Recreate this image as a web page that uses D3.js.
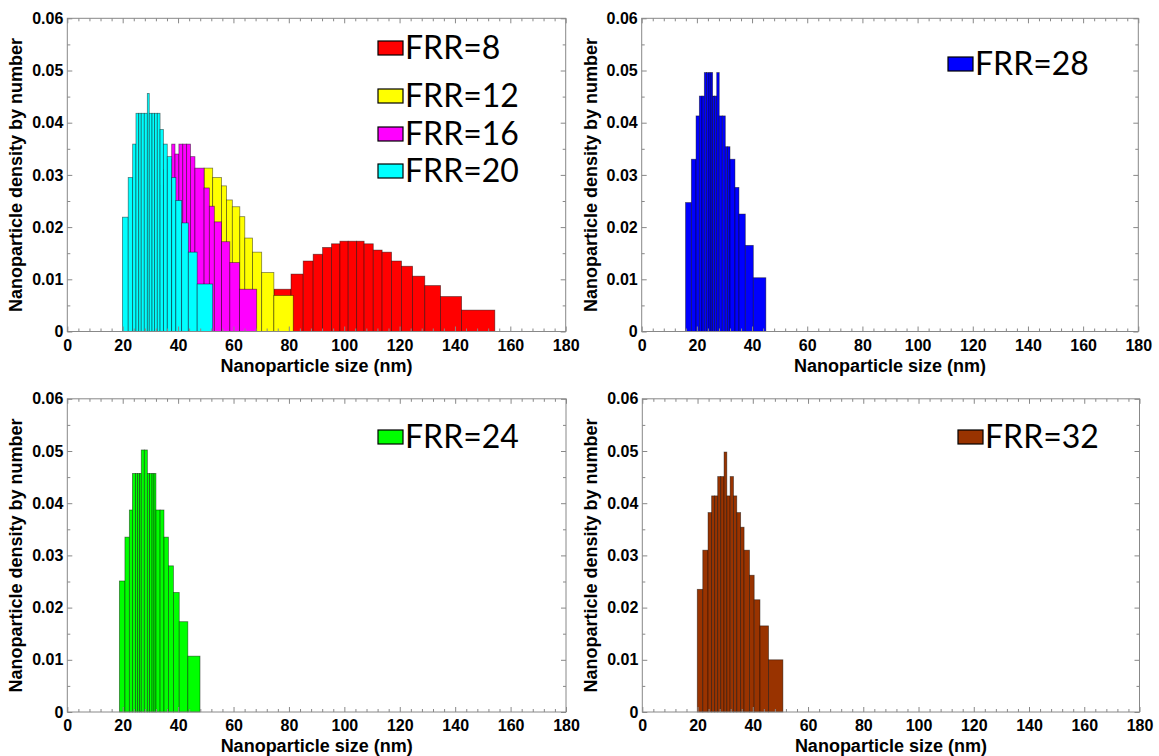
<!DOCTYPE html>
<html lang="en">
<head>
<meta charset="utf-8">
<title>Nanoparticle size distributions</title>
<style type="text/css">
  body { margin: 0; background: #fff; }
  .tick text, .lab {
    font-family: "Liberation Sans Narrow", "Liberation Sans", Arial, sans-serif;
    font-weight: bold;
    fill: #000;
  }
  .leg { font-family: Lato, "Open Sans", sans-serif; font-size: 32px; fill: #000; }
</style>
<script type="text/javascript" src="https://d3js.org/d3.v7.min.js"></script>
</head>
<body>
<script type="text/javascript">

var w = 1159;
var h = 756;

// bin edges (nm) and number density per bin
var edges8  = [74.6, 80.8, 85.2, 88.8, 92.2, 95.4, 98.45, 101.45, 104.5, 107.2, 110.5, 113.7, 117.1, 120.7, 124.7, 129.1, 134.8, 142.4, 154.4];
var dens8   = [0.0081, 0.0110, 0.0135, 0.0148, 0.0161, 0.0168, 0.0173, 0.0173, 0.0173, 0.0168, 0.0156, 0.0152, 0.0135, 0.0125, 0.0106, 0.0088, 0.0067, 0.0041];

var edges12 = [46.1, 49.4, 52.5, 55.7, 57.5, 59.6, 62.3, 64.1, 66.9, 70.2, 74.6, 81.6];
var dens12  = [0.0300, 0.0313, 0.0295, 0.0279, 0.0252, 0.0239, 0.0220, 0.0179, 0.0152, 0.0113, 0.0069];

var edges16 = [33.5, 34.7, 36.1, 37.7, 38.9, 40.3, 41.7, 43.1, 44.5, 46.1, 49.4, 51.3, 53.1, 55.7, 58.7, 62.2, 68.4];
var dens16  = [0.0280, 0.0310, 0.0330, 0.0359, 0.0340, 0.0359, 0.0359, 0.0359, 0.0335, 0.0313, 0.0275, 0.0240, 0.0210, 0.0172, 0.0132, 0.0081];

var edges20 = [19.9, 22.0, 23.6, 24.8, 25.8, 26.7, 27.8, 28.9, 29.6, 30.6, 31.5, 32.5, 33.5, 34.7, 36.1, 37.7, 39.2, 41.3, 43.7, 46.9, 52.5];
var dens20  = [0.0219, 0.0295, 0.0359, 0.0418, 0.0418, 0.0418, 0.0418, 0.0456, 0.0418, 0.0418, 0.0418, 0.0418, 0.0387, 0.0359, 0.0335, 0.0295, 0.0251, 0.0208, 0.0152, 0.0091];

var edges24 = [18.8, 20.8, 22.4, 23.5, 24.6, 25.4, 26.1, 26.7, 27.8, 28.9, 29.7, 30.6, 31.3, 32.0, 33.5, 34.9, 36.5, 38.3, 40.4, 43.5, 47.9];
var dens24  = [0.0251, 0.0335, 0.0387, 0.0457, 0.0457, 0.0457, 0.0457, 0.0502, 0.0502, 0.0457, 0.0457, 0.0457, 0.0457, 0.0387, 0.0387, 0.0335, 0.0280, 0.0229, 0.0173, 0.0107];

var edges28 = [15.9, 18.0, 19.7, 20.9, 21.85, 22.7, 23.5, 24.4, 25.1, 25.7, 26.4, 27.2, 28.1, 29.2, 30.3, 31.15, 32.0, 33.8, 35.25, 37.55, 40.45, 45.0];
var dens28  = [0.0247, 0.0330, 0.0413, 0.0451, 0.0451, 0.0496, 0.0496, 0.0496, 0.0496, 0.0451, 0.0451, 0.0496, 0.0413, 0.0413, 0.0354, 0.0354, 0.0330, 0.0276, 0.0225, 0.0165, 0.0103];

var edges32 = [19.9, 21.9, 23.8, 25.1, 26.2, 27.3, 28.4, 29.6, 30.6, 31.8, 33.0, 34.2, 35.6, 36.85, 38.8, 40.5, 42.6, 45.7, 50.9];
var dens32  = [0.0235, 0.0310, 0.0382, 0.0414, 0.0414, 0.0451, 0.0451, 0.0498, 0.0414, 0.0451, 0.0414, 0.0382, 0.0354, 0.0310, 0.0262, 0.0215, 0.0165, 0.0100];

var xTicks = d3.range(0, 181, 20);
var yTicks = [0, 0.01, 0.02, 0.03, 0.04, 0.05, 0.06];
var xTitle = 'Nanoparticle size (nm)';
var yTitle = 'Nanoparticle density by number';

var s8  = {name: 'FRR=8',  color: '#ff0000', edges: edges8,  dens: dens8};
var s12 = {name: 'FRR=12', color: '#ffff00', edges: edges12, dens: dens12};
var s16 = {name: 'FRR=16', color: '#ff00ff', edges: edges16, dens: dens16};
var s20 = {name: 'FRR=20', color: '#00ffff', edges: edges20, dens: dens20};
var s24 = {name: 'FRR=24', color: '#00ff00', edges: edges24, dens: dens24};
var s28 = {name: 'FRR=28', color: '#0000ff', edges: edges28, dens: dens28};
var s32 = {name: 'FRR=32', color: '#993300', edges: edges32, dens: dens32};

// panel frames (pixel boxes) and legend placement
var panels = [
  {x0: 67.3, x1: 565.7, yt: 18.3, yb: 331.5, series: [s8, s12, s16, s20],
   leg: [{x: 378, y: 48}, {x: 378, y: 96}, {x: 378, y: 134}, {x: 378, y: 171}]},
  {x0: 641.7, x1: 1138.3, yt: 18.3, yb: 331.5, series: [s28],
   leg: [{x: 948, y: 64}]},
  {x0: 67.3, x1: 566, yt: 398.8, yb: 712, series: [s24],
   leg: [{x: 378, y: 437}]},
  {x0: 642.3, x1: 1139.5, yt: 398.8, yb: 712, series: [s32],
   leg: [{x: 958, y: 437}]}
];

var svg = d3.select('body')
  .append('svg')
  .attr('width', w)
  .attr('height', h);

var yFmt = function(d){ return d === 0 ? '0' : d3.format('.2f')(d); };

panels.forEach(function(p){
  var x = d3.scaleLinear().domain([0, 180]).range([p.x0, p.x1]);
  var y = d3.scaleLinear().domain([0, 0.06]).range([p.yb, p.yt]);
  var g = svg.append('g');

  p.series.forEach(function(s){
    var bins = s.dens.map(function(v, i){ return {a: s.edges[i], b: s.edges[i+1], v: v}; });
    g.append('g').selectAll('rect')
      .data(bins)
      .enter()
      .append('rect')
      .attr('x', function(d){ return x(d.a); })
      .attr('y', function(d){ return y(d.v); })
      .attr('width', function(d){ return x(d.b) - x(d.a); })
      .attr('height', function(d){ return y(0) - y(d.v); })
      .attr('fill', s.color)
      .attr('stroke', '#000')
      .attr('stroke-opacity', 0.5)
      .attr('stroke-width', 0.8);
  });

  var minorX = d3.range(0, 181, 4).filter(function(d){ return d % 20 !== 0; });
  var minorY = [0.005, 0.015, 0.025, 0.035, 0.045, 0.055];

  // bottom
  g.append('g').attr('transform', 'translate(0,' + p.yb + ')')
    .call(d3.axisBottom(x).tickValues(xTicks).tickSizeInner(-5).tickSizeOuter(0).tickPadding(8));
  g.append('g').attr('transform', 'translate(0,' + p.yb + ')')
    .call(d3.axisBottom(x).tickValues(minorX).tickSizeInner(-3).tickSizeOuter(0).tickFormat(''));
  // top
  g.append('g').attr('transform', 'translate(0,' + p.yt + ')')
    .call(d3.axisTop(x).tickValues(xTicks).tickSizeInner(-5).tickSizeOuter(0).tickFormat(''));
  g.append('g').attr('transform', 'translate(0,' + p.yt + ')')
    .call(d3.axisTop(x).tickValues(minorX).tickSizeInner(-3).tickSizeOuter(0).tickFormat(''));
  // left
  g.append('g').attr('transform', 'translate(' + p.x0 + ',0)')
    .call(d3.axisLeft(y).tickValues(yTicks).tickSizeInner(-5).tickSizeOuter(0).tickPadding(4).tickFormat(yFmt));
  g.append('g').attr('transform', 'translate(' + p.x0 + ',0)')
    .call(d3.axisLeft(y).tickValues(minorY).tickSizeInner(-3).tickSizeOuter(0).tickFormat(''));
  // right
  g.append('g').attr('transform', 'translate(' + p.x1 + ',0)')
    .call(d3.axisRight(y).tickValues(yTicks).tickSizeInner(-5).tickSizeOuter(0).tickFormat(''));
  g.append('g').attr('transform', 'translate(' + p.x1 + ',0)')
    .call(d3.axisRight(y).tickValues(minorY).tickSizeInner(-3).tickSizeOuter(0).tickFormat(''));

  g.selectAll('.domain').remove();
  g.selectAll('.tick line').attr('stroke', '#888');
  g.selectAll('.tick text').style('font-size', '16px');

  g.append('rect')
    .attr('x', p.x0).attr('y', p.yt)
    .attr('width', p.x1 - p.x0).attr('height', p.yb - p.yt)
    .attr('fill', 'none')
    .attr('stroke', '#888')
    .attr('stroke-width', 1);

  g.append('text')
    .attr('class', 'lab')
    .attr('x', (p.x0 + p.x1) / 2)
    .attr('y', p.yb + 40)
    .attr('text-anchor', 'middle')
    .style('font-size', '18px')
    .text(xTitle);

  g.append('text')
    .attr('class', 'lab')
    .attr('transform', 'translate(' + (p.x0 - 45) + ',' + ((p.yt + p.yb) / 2) + ') rotate(-90)')
    .attr('text-anchor', 'middle')
    .style('font-size', '18px')
    .text(yTitle);

  // legend
  p.series.forEach(function(s, i){
    var L = p.leg[i];
    g.append('rect')
      .attr('x', L.x).attr('y', L.y - 7)
      .attr('width', 25).attr('height', 14)
      .attr('fill', s.color)
      .attr('stroke', '#000')
      .attr('stroke-width', 1.2);
    g.append('text')
      .attr('class', 'leg')
      .attr('x', L.x + 27)
      .attr('y', L.y + 11)
      .text(s.name);
  });
});

</script>
</body>
</html>
